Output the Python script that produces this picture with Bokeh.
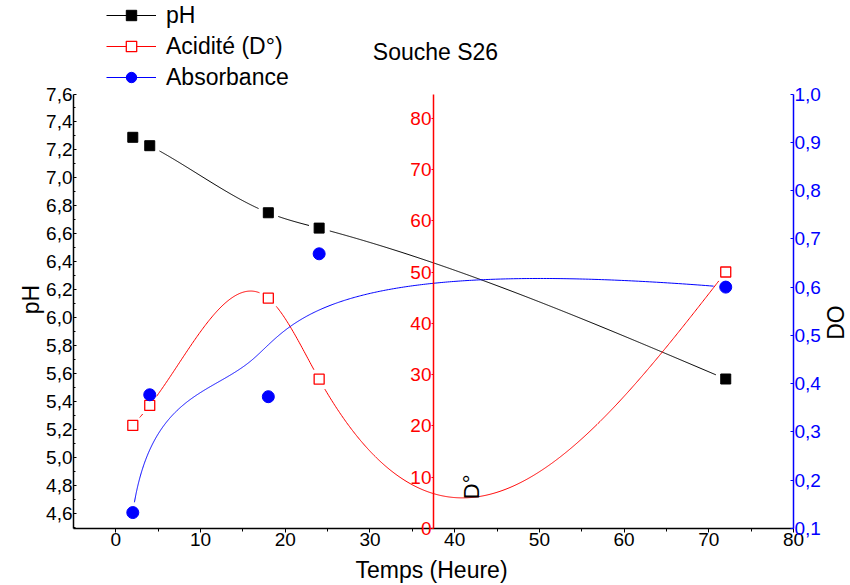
import numpy as np
from bokeh.plotting import figure
from bokeh.models import (Range1d, LinearAxis, FixedTicker, CustomJSTickFormatter,
                          Legend, LegendItem, Label, ColumnDataSource)
from bokeh.embed import file_html
from bokeh.resources import INLINE

# ---------------- data ----------------
temps = [2, 4, 18, 24, 72]                        # Temps (Heure)
ph = [7.29, 7.23, 6.75, 6.64, 5.56]               # pH
acidite = [20.1, 24.0, 44.9, 29.1, 50.0]          # Acidité (D°)
absorbance = [0.133, 0.377, 0.373, 0.669, 0.600]  # DO

x_ticks = [0, 10, 20, 30, 40, 50, 60, 70, 80]
x_minor = [5, 15, 25, 35, 45, 55, 65, 75]
ph_ticks = [4.6, 4.8, 5.0, 5.2, 5.4, 5.6, 5.8, 6.0, 6.2, 6.4, 6.6, 6.8, 7.0, 7.2, 7.4, 7.6]
ph_minor = [4.5, 4.7, 4.9, 5.1, 5.3, 5.5, 5.7, 5.9, 6.1, 6.3, 6.5, 6.7, 6.9, 7.1, 7.3, 7.5]
acid_ticks = [0, 10, 20, 30, 40, 50, 60, 70, 80]
do_ticks = [0.1, 0.2, 0.3, 0.4, 0.5, 0.6, 0.7, 0.8, 0.9, 1.0]

title_text = "Souche S26"
x_title = "Temps (Heure)"
ph_title = "pH"
do_title = "DO"
acid_note = "D°"
legend_labels = ["pH", "Acidité (D°)", "Absorbance"]

# ---------------- layout ----------------
W, H = 850, 585
PX_L, PX_R, PX_T, PX_B = 73, 793, 93.5, 528     # plot area inside the canvas
FW = PX_R - PX_L
FH = PX_B - PX_T
X_RANGE = (-5, 80)
PH_RANGE = (4.49, 7.6)
ACID_RANGE = (0, 84.7)
DO_RANGE = (0.1, 1.0)
ACID_AXIS_X = 37.5
NOTE_POS = (42.0, 5.7)
FONT = "Liberation Sans"


def xr(lo, hi):
    s = FW / (hi - lo)
    return Range1d(lo - PX_L / s, hi + (W - PX_R) / s)


def yr(lo, hi):
    s = FH / (hi - lo)
    return Range1d(lo - (H - PX_B) / s, hi + PX_T / s)


def natural_spline(xs, ys, n=600):
    xs = np.asarray(xs, float)
    ys = np.asarray(ys, float)
    k = len(xs)
    h = np.diff(xs)
    A = np.zeros((k, k))
    b = np.zeros(k)
    A[0, 0] = A[-1, -1] = 1.0
    for i in range(1, k - 1):
        A[i, i - 1] = h[i - 1]
        A[i, i] = 2 * (h[i - 1] + h[i])
        A[i, i + 1] = h[i]
        b[i] = 3 * ((ys[i + 1] - ys[i]) / h[i] - (ys[i] - ys[i - 1]) / h[i - 1])
    c = np.linalg.solve(A, b)
    xx = np.linspace(xs[0], xs[-1], n)
    idx = np.clip(np.searchsorted(xs, xx, side="right") - 1, 0, k - 2)
    dx = xx - xs[idx]
    bc = (ys[idx + 1] - ys[idx]) / h[idx] - h[idx] * (2 * c[idx] + c[idx + 1]) / 3
    d = (c[idx + 1] - c[idx]) / (3 * h[idx])
    yy = ys[idx] + bc * dx + c[idx] * dx ** 2 + d * dx ** 3
    return xx, yy


def bspline(xs, ys, n=600, deg=3):
    P = np.column_stack([xs, ys]).astype(float)
    m = len(P)
    inner = np.linspace(0, 1, m - deg + 1)[1:-1]
    knots = np.concatenate([np.zeros(deg + 1), inner, np.ones(deg + 1)])
    t = np.linspace(0, 1, n)

    def basis(i, p):
        if p == 0:
            r = ((knots[i] <= t) & (t < knots[i + 1])).astype(float)
            if knots[i + 1] == 1.0 and knots[i] < 1.0:
                r[t == 1.0] = 1.0
            return r
        out = np.zeros_like(t)
        d1 = knots[i + p] - knots[i]
        if d1 > 0:
            out += (t - knots[i]) / d1 * basis(i, p - 1)
        d2 = knots[i + p + 1] - knots[i + 1]
        if d2 > 0:
            out += (knots[i + p + 1] - t) / d2 * basis(i + 1, p - 1)
        return out

    N = np.array([basis(i, deg) for i in range(m)])
    C = N.T @ P
    return C[:, 0], C[:, 1]


def gapped(xx, yy, px, py, rng, gap=10.0):
    sx = FW / (X_RANGE[1] - X_RANGE[0])
    sy = FH / (rng[1] - rng[0])
    yy = np.array(yy, float)
    for a, b in zip(px, py):
        d = np.hypot((xx - a) * sx, (yy - b) * sy)
        yy[d < gap] = np.nan
    return xx, yy


p = figure(width=W, height=H, x_range=xr(*X_RANGE), y_range=yr(*PH_RANGE),
           output_backend="svg", toolbar_location=None, title=None,
           min_border_left=0, min_border_right=0, min_border_top=0, min_border_bottom=0)
p.extra_y_ranges = {"acid": yr(*ACID_RANGE), "do": yr(*DO_RANGE)}
p.xgrid.visible = False
p.ygrid.visible = False
p.outline_line_color = None

fmt = CustomJSTickFormatter(code="return tick.toFixed(1).replace('.', ',');")

# x axis (bottom of the plot area)
xa = p.xaxis[0]
xa.fixed_location = PH_RANGE[0]
xa.bounds = X_RANGE
xa.ticker = FixedTicker(ticks=x_ticks, minor_ticks=x_minor)
xa.major_label_text_font = FONT
xa.major_label_text_font_size = "19px"
xa.major_label_text_color = "black"
xa.major_label_standoff = 0
xa.major_tick_in = 0
xa.major_tick_out = 4
xa.minor_tick_in = 0
xa.minor_tick_out = 3
xa.axis_line_width = 1.5
xa.axis_line_color = "black"

# left pH axis
ya = p.yaxis[0]
ya.fixed_location = X_RANGE[0]
ya.bounds = PH_RANGE
ya.ticker = FixedTicker(ticks=ph_ticks, minor_ticks=ph_minor)
ya.formatter = fmt
ya.major_label_text_font = FONT
ya.major_label_text_font_size = "19px"
ya.major_label_text_color = "black"
ya.major_label_standoff = 1
ya.major_tick_in = 3
ya.major_tick_out = 0
ya.minor_tick_in = 2
ya.minor_tick_out = 0
ya.axis_line_width = 1.5
ya.axis_line_color = "black"

# red acidity axis in the middle of the plot
ra = LinearAxis(y_range_name="acid", fixed_location=ACID_AXIS_X, bounds=ACID_RANGE,
                ticker=FixedTicker(ticks=acid_ticks))
ra.axis_line_color = "#FF0000"
ra.axis_line_width = 1.5
ra.major_tick_line_color = "#FF0000"
ra.minor_tick_line_color = None
ra.major_tick_in = 0
ra.major_tick_out = 2
ra.major_label_text_color = "#FF0000"
ra.major_label_text_font = FONT
ra.major_label_text_font_size = "19px"
ra.major_label_standoff = 0
p.add_layout(ra, "left")

# right DO axis
ba = LinearAxis(y_range_name="do", fixed_location=X_RANGE[1], bounds=DO_RANGE,
                ticker=FixedTicker(ticks=do_ticks), formatter=fmt)
ba.axis_line_color = "#0000FF"
ba.axis_line_width = 1.5
ba.major_tick_line_color = "#0000FF"
ba.minor_tick_line_color = None
ba.major_tick_in = 3
ba.major_tick_out = 0
ba.major_label_text_color = "#0000FF"
ba.major_label_text_font = FONT
ba.major_label_text_font_size = "19px"
ba.major_label_standoff = 1
p.add_layout(ba, "right")

# curves
phx, phy = gapped(*natural_spline(temps, ph), temps, ph, PH_RANGE)
acx, acy = gapped(*natural_spline(temps, acidite), temps, acidite, ACID_RANGE)
dox, doy = gapped(*bspline(temps, absorbance), temps, absorbance, DO_RANGE)

ph_line = p.line(phx, phy, line_color="black", line_width=1)
ph_mark = p.scatter(temps, ph, marker="square", size=10, fill_color="black", line_color="black")

ac_line = p.line(acx, acy, line_color="#FF0000", line_width=1, y_range_name="acid")
ac_mark = p.scatter(temps, acidite, marker="square", size=10, fill_color="white",
                    line_color="#FF0000", line_width=1.3, y_range_name="acid")

do_line = p.line(dox, doy, line_color="#0000FF", line_width=1, y_range_name="do")
do_mark = p.scatter(temps, absorbance, marker="circle", size=12, fill_color="#0000FF",
                    line_color="#0000FF", y_range_name="do")

# legend-only white halos to make the gap around the legend marker
empty = ColumnDataSource(data=dict(x=[], y=[]))
halo_sq = p.scatter("x", "y", source=empty, marker="square", size=14,
                    fill_color="white", line_color="white")
halo_ci = p.scatter("x", "y", source=empty, marker="circle", size=15,
                    fill_color="white", line_color="white")

LEG_X, LEG_TOP, ITEM_H, ITEM_GAP = 106, 4.5, 26, 4
leg_bottom = LEG_TOP + 3 * ITEM_H + 2 * ITEM_GAP
legend = Legend(items=[
    LegendItem(label=legend_labels[0], renderers=[ph_line, halo_sq, ph_mark]),
    LegendItem(label=legend_labels[1], renderers=[ac_line, halo_sq, ac_mark]),
    LegendItem(label=legend_labels[2], renderers=[do_line, halo_ci, do_mark]),
], location=(LEG_X, H - leg_bottom), orientation="vertical", padding=0, margin=0,
    spacing=ITEM_GAP, glyph_width=50, glyph_height=ITEM_H, label_height=ITEM_H,
    label_standoff=10, label_text_font=FONT, label_text_font_size="23px",
    label_text_color="black",
    border_line_color=None, background_fill_alpha=0)
p.add_layout(legend)


def screen_label(text, cx, cy, size, angle=0.0):
    return Label(x=cx, y=H - cy, x_units="screen", y_units="screen", text=text,
                 angle=angle, text_align="center", text_baseline="middle",
                 text_font=FONT, text_font_size=size, text_color="black")


p.add_layout(screen_label(title_text, 435, 51, "23px"))
p.add_layout(screen_label(x_title, 431, 569, "23px"))
p.add_layout(screen_label(ph_title, 30, 299, "23px", np.pi / 2))
p.add_layout(screen_label(do_title, 835, 322, "23px", np.pi / 2))
p.add_layout(Label(x=NOTE_POS[0], y=NOTE_POS[1], y_range_name="acid", text=acid_note,
                   angle=np.pi / 2, text_align="left", text_baseline="middle",
                   text_font=FONT, text_font_size="22px", text_color="black"))

open("out.html", "w").write(file_html(p, INLINE))
